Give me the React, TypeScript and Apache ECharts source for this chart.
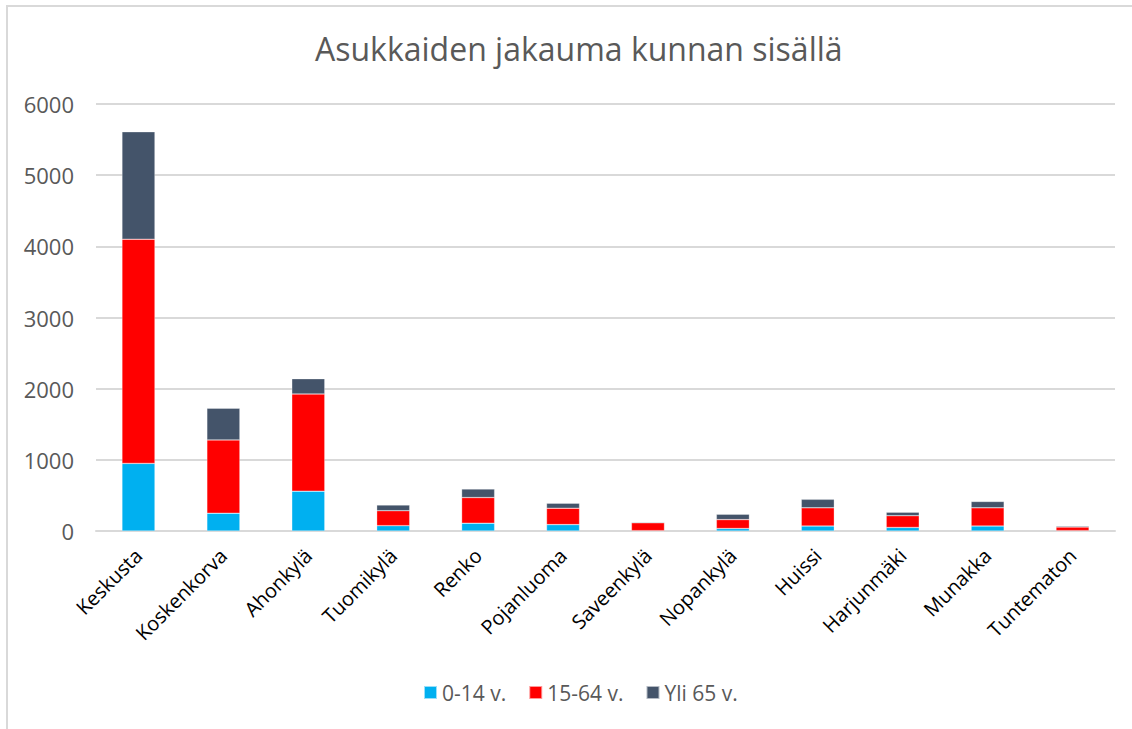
import React, { useEffect, useRef } from "react";
import * as echarts from "echarts";

const categories = [
  "Keskusta", "Koskenkorva", "Ahonkylä", "Tuomikylä", "Renko", "Pojanluoma",
  "Saveenkylä", "Nopankylä", "Huissi", "Harjunmäki", "Munakka", "Tuntematon",
];
const age0to14 = [950, 250, 560, 75, 110, 90, 5, 35, 70, 50, 70, 5];
const age15to64 = [3150, 1030, 1365, 210, 360, 230, 110, 125, 255, 165, 255, 50];
const age65plus = [1510, 445, 215, 80, 120, 70, 10, 75, 120, 50, 90, 15];
const yTicks = [0, 1000, 2000, 3000, 4000, 5000, 6000];

const FONT = "Open Sans";

export default function App() {
  const ref = useRef<HTMLDivElement>(null);
  useEffect(() => {
    if (!ref.current) return;
    const chart = echarts.init(ref.current, null, { renderer: "svg" });
    const mk = (name: string, data: number[], color: string) => ({
      name,
      type: "bar",
      stack: "total",
      data,
      barWidth: 33,
      itemStyle: { color, borderColor: "rgba(255,255,255,0.6)", borderWidth: 0.5 },
    });
    chart.setOption({
      animation: false,
      backgroundColor: "#fff",
      title: {
        text: "Asukkaiden jakauma kunnan sisällä",
        left: 310,
        top: 27,
        textStyle: { fontFamily: FONT, fontSize: 32, fontWeight: "normal", color: "#595959" },
      },
      legend: {
        bottom: 21,
        left: 418,
        itemWidth: 13,
        itemHeight: 13,
        itemGap: 22,
        icon: "rect",
        textStyle: { fontFamily: FONT, fontSize: 21, color: "#595959" },
        data: ["0-14 v.", "15-64 v.", "Yli 65 v."],
      },
      grid: { left: 96, right: 17, top: 104, bottom: 198 },
      xAxis: {
        type: "category",
        data: categories,
        axisLine: { show: true, lineStyle: { color: "#D9D9D9", width: 2 } },
        axisTick: { show: false },
        axisLabel: {
          interval: 0,
          rotate: 45,
          margin: 21,
          fontFamily: FONT,
          fontSize: 20,
          color: "#000",
        },
      },
      yAxis: {
        type: "value",
        min: yTicks[0],
        max: yTicks[yTicks.length - 1],
        interval: 1000,
        axisLine: { show: false },
        axisTick: { show: false },
        splitLine: { lineStyle: { color: "#D9D9D9", width: 2 } },
        axisLabel: {
          fontFamily: FONT,
          fontSize: 22,
          color: "#595959",
          margin: 22,
          formatter: (v: number) => String(v),
        },
      },
      graphic: [
        {
          type: "rect",
          shape: { x: 7, y: 6, width: 1200, height: 800 },
          style: { fill: "none", stroke: "#D9D9D9", lineWidth: 2 },
          silent: true,
        },
      ],
      series: [
        mk("0-14 v.", age0to14, "#00B0F0"),
        mk("15-64 v.", age15to64, "#FF0000"),
        mk("Yli 65 v.", age65plus, "#44546A"),
      ],
    });
    return () => chart.dispose();
  }, []);
  return (
    <div
      ref={ref}
      style={{ position: "fixed", left: 0, top: 0, width: 1132, height: 729 }}
    />
  );
}
